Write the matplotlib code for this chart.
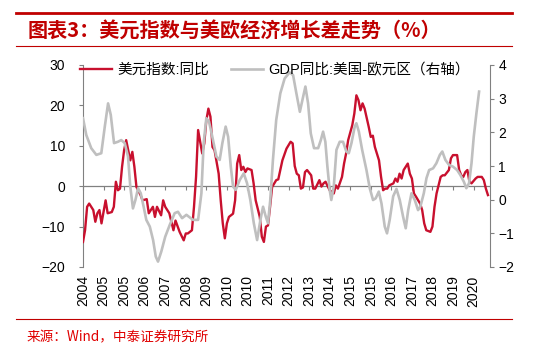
import matplotlib
matplotlib.use('Agg')
import matplotlib.pyplot as plt
from matplotlib.lines import Line2D

plt.rcParams['font.family'] = ['Liberation Sans', 'Noto Sans CJK SC', 'DejaVu Sans']
plt.rcParams['axes.unicode_minus'] = True

# 月份偏移: 0 = 2004-03
usd_m = [0, 1, 2, 3, 5, 6, 7, 8, 9, 10, 11, 12, 14, 15, 16, 17, 18, 19, 20, 21,
         23, 24, 25, 26, 28, 29, 31, 32, 34, 35, 36, 38, 39, 40, 42, 44, 45, 47, 49, 50,
         51, 53, 54, 55, 56, 58, 59, 60, 61, 62, 63, 64, 66, 67, 68, 69, 70, 71, 73, 74,
         75, 76, 77, 78, 79, 80, 82, 83, 84, 86, 87, 88, 89, 90, 91, 92, 94, 95, 97, 99,
         101, 102, 103, 104, 105, 106, 107, 108, 109, 111, 112, 113, 115, 116, 117, 118, 120, 122, 123, 124,
         126, 127, 128, 129, 131, 132, 133, 134, 135, 136, 137, 139, 140, 141, 142, 144, 145, 146, 147, 148,
         149, 151, 152, 153, 154, 155, 156, 158, 159, 160, 161, 162, 164, 165, 166, 167, 169, 170, 171, 172,
         174, 175, 176, 178, 179, 180, 182, 183, 184, 185, 186, 187, 188, 189, 191, 192, 194, 195, 196, 197]
usd_v = [-13.8, -10.9, -5.1, -4.3, -5.9, -8.8, -6.7, -5.9, -9.2, -6.4, -3.5, -6.7, -6.4, -5.1, 1.1, -1.0, -0.6, 4.8, 8.9, 11.4,
         6.4, 8.5, 4.8, -0.2, -2.2, -3.5, -3.2, -6.7, -5.1, -7.6, -5.1, -7.2, -3.5, -5.1, -6.7, -10.9, -8.5, -11.3, -13.4, -11.7,
         -11.7, -10.9, -5.1, 2.3, 13.9, 8.1, 10.6, 16.3, 19.2, 17.2, 9.7, 8.9, 3.1, -3.5, -9.2, -12.9, -9.2, -7.6, -6.8, -3.5,
         5.6, 7.7, 4.0, 4.8, 3.5, 4.4, 4.0, 0.7, -3.5, -7.6, -12.5, -13.8, -10.0, -9.7, -5.1, -0.2, 1.5, 1.7, 6.4, 9.3,
         11.0, 10.6, 5.0, 3.1, 2.7, -0.6, -0.3, 3.5, 4.0, 2.7, -0.6, -0.6, 1.5, -0.1, 0.7, 1.1, -1.0, -1.8, 0.2, -0.6,
         2.3, 5.6, 8.1, 11.4, 15.1, 18.0, 22.5, 21.3, 18.8, 20.5, 19.2, 14.7, 12.2, 12.5, 9.7, 6.4, 2.3, -1.0, -0.6, -0.6,
         0.2, 0.7, 1.9, 1.1, 3.1, 1.9, 4.0, 5.6, 3.1, 1.9, -1.8, -2.6, -4.3, -5.9, -9.2, -10.9, -11.3, -10.0, -5.1, -1.8,
         2.3, 2.7, 2.7, 4.0, 6.9, 7.7, 7.7, 4.0, 2.7, 2.3, 3.5, 4.0, 1.1, 0.7, 1.9, 2.3, 2.3, 1.5, -0.6, -2.2]

gdp_m = [0.0, 1.6, 4.0, 6.5, 8.9, 10.6, 12.2, 13.5, 15.1, 17.0, 18.6, 20.3, 21.9, 23.0, 24.3, 25.5, 26.8, 28.1, 29.5, 30.8,
         32.5, 34.1, 35.4, 36.5, 38.1, 40.0, 42.2, 44.6, 46.2, 48.2, 50.3, 53.5, 56.0, 57.6, 58.7, 60.0, 61.3, 62.9, 64.9, 66.5,
         67.8, 69.4, 70.6, 71.9, 73.0, 74.3, 76.3, 78.2, 79.8, 81.4, 83.1, 84.7, 86.3, 87.6, 88.9, 90.0, 91.1, 92.4, 94.0, 96.0,
         98.1, 100.5, 102.2, 103.8, 105.5, 107.1, 108.2, 109.5, 110.8, 112.4, 114.4, 115.7, 116.8, 117.9, 118.9, 120.0, 120.8, 122.0, 123.3, 124.9,
         126.5, 128.1, 129.3, 130.6, 132.2, 133.0, 134.2, 135.8, 137.9, 139.5, 141.1, 142.4, 143.9, 145.2, 146.8, 147.9, 149.2, 150.9, 152.5, 154.1,
         155.7, 157.0, 158.2, 159.8, 161.4, 163.0, 164.1, 165.8, 167.1, 168.4, 170.3, 171.9, 173.6, 174.8, 176.3, 178.1, 180.0, 182.0, 183.6, 185.3,
         186.5, 187.8, 189.0, 190.1, 191.4, 192.7]
gdp_v = [2.42, 1.92, 1.53, 1.33, 1.38, 2.17, 2.86, 2.52, 1.68, 1.72, 1.77, 1.68, 1.28, 0.39, -0.26, -0.01, 0.34, 0.19, -0.21, -0.60,
         -0.80, -1.20, -1.69, -1.84, -1.54, -1.10, -0.75, -0.40, -0.36, -0.55, -0.45, -0.60, -0.60, 0.19, 1.68, 2.42, 2.32, 1.87, 1.28, 1.18,
         1.68, 2.17, 1.87, 0.98, 0.39, 0.29, 0.59, 0.78, 0.49, -0.01, -0.70, -1.20, -0.60, -0.21, -0.50, -0.70, -0.01, 1.18, 2.37, 3.16,
         3.60, 3.78, 3.70, 3.16, 2.61, 3.06, 3.36, 2.86, 1.97, 1.53, 1.53, 1.77, 2.02, 1.72, 0.98, 0.29, -0.01, 0.39, 1.48, 1.72,
         1.72, 1.43, 1.38, 1.68, 2.17, 2.27, 2.02, 1.48, 0.88, 0.34, -0.01, 0.04, 0.24, -0.11, -0.80, -1.00, -0.60, 0.10, 0.32, -0.01,
         -0.50, -0.85, -0.31, 0.19, -0.01, -0.31, -0.21, 0.19, 0.64, 0.88, 0.93, 1.08, 1.33, 1.43, 1.18, 1.03, 0.98, 0.88, 0.73, 0.53,
         0.34, 0.49, 1.08, 1.87, 2.57, 3.21]

tick_m = list(range(0, 200, 10))
tick_lab = ['2004', '2005', '2005', '2006', '2007', '2008', '2009', '2010', '2010', '2011',
            '2012', '2013', '2014', '2015', '2015', '2016', '2017', '2018', '2019', '2020']

red = '#C8102E'
grey = '#BFBFBF'
axc = '#808080'
title_red = '#C00000'

fig = plt.figure(figsize=(5.5, 3.58), dpi=100)
ax = fig.add_axes([83/550, 1-267/358, 407/550, 202/358])
ax2 = ax.twinx()

ax.plot(usd_m, usd_v, color=red, lw=1.7, label='美元指数:同比', zorder=3)
ax2.plot(gdp_m, gdp_v, color=grey, lw=1.9, label='GDP同比:美国-欧元区（右轴）', zorder=2)

ax.set_xlim(0, 198)
ax.set_ylim(-20, 30)
ax.set_yticks(range(-20, 31, 10))
ax2.set_ylim(-2, 4)
ax2.set_yticks(range(-2, 5))
ax.axhline(0, color=axc, lw=0.9, zorder=1)

for a in (ax, ax2):
    a.spines['top'].set_visible(False)
    a.spines['bottom'].set_visible(False)
ax.spines['right'].set_visible(False)
ax2.spines['left'].set_visible(False)
ax.spines['left'].set_color(axc)
ax2.spines['right'].set_color(axc)

ax.set_xticks(tick_m)
ax.set_xticklabels(tick_lab, rotation=90, fontsize=10)
ax.tick_params(axis='x', length=0, pad=6)
ax.tick_params(axis='y', direction='out', length=3, color=axc, labelsize=10, pad=10)
ax2.tick_params(axis='y', direction='out', length=3, color=axc, labelsize=10, pad=3)

# tick marks on the zero line
sec = ax.secondary_xaxis(0.4)
sec.set_xticks(tick_m)
sec.set_xticklabels([])
sec.tick_params(length=3, direction='out', color=axc)
sec.spines['bottom'].set_visible(False)

h1, l1 = ax.get_legend_handles_labels()
h2, l2 = ax2.get_legend_handles_labels()
ax2.legend(h1 + h2, l1 + l2, ncol=2, frameon=False, loc='center',
           bbox_to_anchor=(0.472, 0.975), fontsize=10.5, handlelength=2.2,
           handletextpad=0.35, columnspacing=1.5)

fig.add_artist(Line2D([16/550, 512/550], [1-13/358, 1-13/358], color=title_red, lw=2))
fig.add_artist(Line2D([16/550, 512/550], [1-46/358, 1-46/358], color=title_red, lw=0.8))
fig.add_artist(Line2D([16/550, 512/550], [1-319/358, 1-319/358], color=title_red, lw=0.8))
fig.text(28/550, 1-30/358, '图表3：美元指数与美欧经济增长差走势（%）', color=title_red,
         fontsize=14.5, fontweight='bold', va='center', ha='left',
         family=['Noto Sans CJK SC', 'DejaVu Sans'])
fig.text(27/550, 1-337/358, '来源：Wind，中泰证券研究所', color='#E00000',
         fontsize=9.8, va='center', ha='left', family=['Noto Sans CJK SC', 'DejaVu Sans'])

fig.savefig('out.png', dpi=100)
